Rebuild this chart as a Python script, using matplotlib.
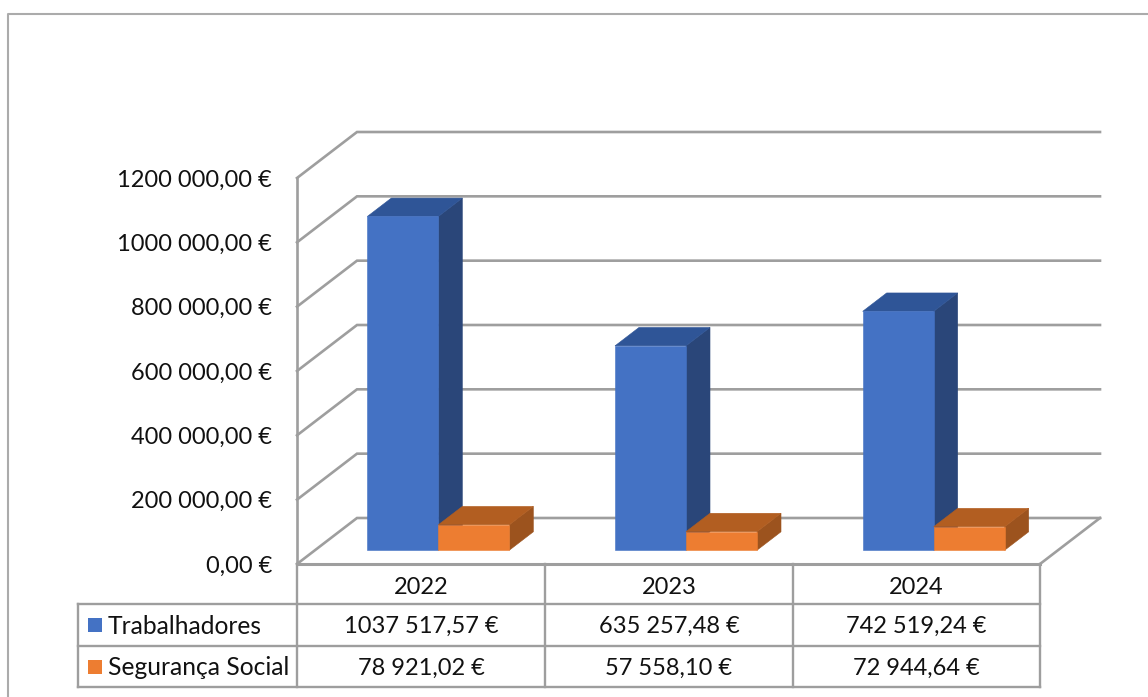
import matplotlib
matplotlib.use("Agg")
import matplotlib.pyplot as plt
from matplotlib.patches import Polygon, Rectangle

plt.rcParams['font.family'] = ['Lato', 'DejaVu Sans']

W, H = 1148, 697

years = ['2022', '2023', '2024']
series_names = ['Trabalhadores', 'Segurança Social']
trabalhadores = [1037517.57, 635257.48, 742519.24]
seguranca = [78921.02, 57558.10, 72944.64]
trab_labels = ['1037 517,57 €', '635 257,48 €', '742 519,24 €']
seg_labels = ['78 921,02 €', '57 558,10 €', '72 944,64 €']
y_ticks = [0, 200000, 400000, 600000, 800000, 1000000, 1200000]
y_labels = ['0,00 €', '200 000,00 €', '400 000,00 €', '600 000,00 €',
            '800 000,00 €', '1000 000,00 €', '1200 000,00 €']

BLUE = ('#4472C4', '#2F5597', '#2A4679')
ORANGE = ('#ED7D31', '#B25E21', '#9C531E')
GRID = '#9E9E9E'
TXT = '#111111'

fig = plt.figure(figsize=(W / 100, H / 100), dpi=100)

# full figure axes in pixels, for the frame and the table
bg = fig.add_axes([0, 0, 1, 1])
bg.set_xlim(0, W)
bg.set_ylim(H, 0)
bg.axis('off')

# chart axes = front plane of the 3d box
left, right, bottom, top = 297, 1040, 564, 178
ax = fig.add_axes([left / W, 1 - bottom / H, (right - left) / W, (bottom - top) / H])
ax.set_xlim(0, 3)
ax.set_ylim(0, 1200000)
ax.axis('off')

# depth of the box, in data units
DX = 60 / (right - left) * 3
DY = 46 / (bottom - top) * 1200000


def proj(x, y, d):
    return (x + d * DX, y + d * DY)


# walls and gridlines
for v, lab in zip(y_ticks, y_labels):
    a = proj(0, v, 0)
    b = proj(0, v, 1)
    c = proj(3, v, 1)
    ax.plot([a[0], b[0], c[0]], [a[1], b[1], c[1]], color=GRID, lw=1.9, clip_on=False,
            solid_joinstyle='miter', zorder=1)
    ax.annotate(lab, (0, v), xytext=(-25, -2), textcoords='offset pixels', ha='right', va='center',
                fontsize=17, color=TXT, annotation_clip=False)
ax.plot([0, 0], [0, 1200000], color=GRID, lw=1.9, clip_on=False, zorder=1)
ax.plot([0, 3], [0, 0], color=GRID, lw=2.2, clip_on=False, zorder=1)
a = proj(3, 0, 0)
b = proj(3, 0, 1)
ax.plot([a[0], b[0]], [a[1], b[1]], color=GRID, lw=1.9, clip_on=False, zorder=1)

bar_w = 71 / (right - left) * 3
d0, d1 = 0.30, 0.70


def box(x0, x1, v, cols):
    front = [proj(x0, 0, d0), proj(x1, 0, d0), proj(x1, v, d0), proj(x0, v, d0)]
    topf = [proj(x0, v, d0), proj(x1, v, d0), proj(x1, v, d1), proj(x0, v, d1)]
    side = [proj(x1, 0, d0), proj(x1, 0, d1), proj(x1, v, d1), proj(x1, v, d0)]
    ax.add_patch(Polygon(side, closed=True, fc=cols[2], ec=cols[2], lw=0.4, zorder=3, clip_on=False))
    ax.add_patch(Polygon(topf, closed=True, fc=cols[1], ec=cols[1], lw=0.4, zorder=3, clip_on=False))
    ax.add_patch(Polygon(front, closed=True, fc=cols[0], ec=cols[0], lw=0.4, zorder=3, clip_on=False))


for i in range(len(years)):
    c = i + 0.5 - 0.002
    box(c - bar_w, c, trabalhadores[i], BLUE)
    box(c, c + bar_w, seguranca[i], ORANGE)

# data table
xs = [78, 297, 545, 793, 1040]
ys = [564, 604, 646, 687]
for y in ys[1:]:
    bg.plot([xs[0], xs[-1]], [y, y], color=GRID, lw=1.7)
bg.plot([xs[0], xs[0]], [ys[1], ys[3]], color=GRID, lw=1.7)
for x in xs[1:]:
    bg.plot([x, x], [ys[0], ys[3]], color=GRID, lw=1.7)

rows = [years, trab_labels, seg_labels]
row_shift = [3, 1, 2]
for r, row in enumerate(rows):
    for j, s in enumerate(row):
        bg.text((xs[j + 1] + xs[j + 2]) / 2, (ys[r] + ys[r + 1]) / 2 + row_shift[r], s,
                ha='center', va='center', fontsize=17, color=TXT)

for r, (name, col) in enumerate(zip(series_names, [BLUE[0], ORANGE[0]])):
    yc = (ys[r + 1] + ys[r + 2]) / 2
    bg.add_patch(Rectangle((88, yc - 7), 14, 14, fc=col, ec='none'))
    bg.text(108, yc + 1, name, ha='left', va='center', fontsize=17.7, color=TXT)

# outer frame
bg.plot([8, 8, W], [H, 14, 14], color='#ABABAB', lw=1.5)

fig.savefig('out.png', dpi=100)
